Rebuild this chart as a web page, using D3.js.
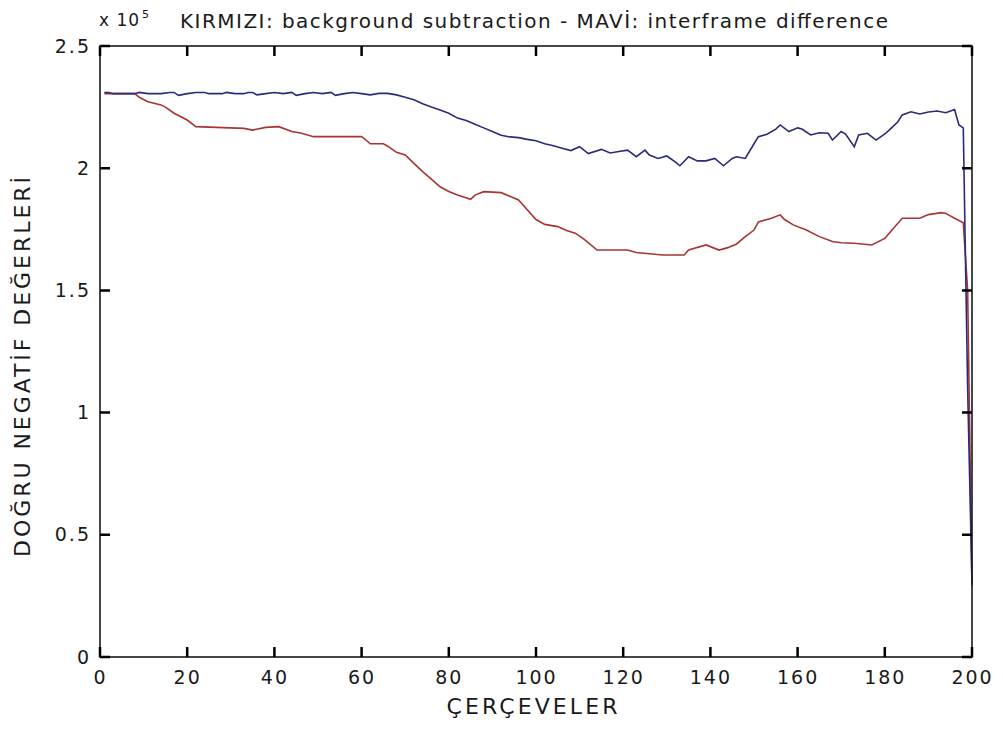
<!DOCTYPE html>
<html>
<head>
<meta charset="utf-8">
<script src="https://cdn.jsdelivr.net/npm/d3@7"></script>
<style>
  body { margin: 0; background: #fff; }
  text { font-family: "DejaVu Sans", "Liberation Sans", Arial, sans-serif; fill: #1a1a1a; }
</style>
</head>
<body>
<svg id="chart" width="1003" height="729"></svg>
<script>
// === DATA (frame, value in units of 1e5) ===
const xTicks = [0, 20, 40, 60, 80, 100, 120, 140, 160, 180, 200];
const yTicks = [0, 0.5, 1, 1.5, 2, 2.5];

// MAVİ: interframe difference
const blueSeries = [
  [1,2.31],[2,2.31],[3,2.305],[5,2.305],[8,2.305],[9,2.31],[11,2.305],[14,2.305],[16,2.31],[17,2.31],
  [18,2.298],[20,2.305],[22,2.31],[24,2.31],[25,2.305],[28,2.305],[29,2.31],[31,2.305],[33,2.305],[34,2.31],
  [35,2.31],[36,2.3],[38,2.305],[40,2.31],[42,2.305],[44,2.31],[45,2.298],[47,2.305],[49,2.31],[51,2.305],
  [53,2.31],[54,2.298],[56,2.305],[58,2.31],[60,2.305],[62,2.3],[64,2.306],[66,2.306],[68,2.3],[70,2.29],
  [72,2.28],[74,2.264],[76,2.25],[78,2.238],[80,2.225],[82,2.205],[84,2.195],[86,2.18],[88,2.165],[90,2.15],
  [92,2.135],[94,2.128],[96,2.125],[98,2.118],[100,2.112],[102,2.1],[104,2.092],[106,2.082],[108,2.072],[110,2.088],
  [112,2.06],[115,2.077],[117,2.062],[119,2.068],[121,2.074],[123,2.047],[125,2.074],[126,2.054],[128,2.04],[130,2.05],
  [132,2.025],[133,2.01],[135,2.047],[137,2.03],[139,2.03],[141,2.04],[143,2.01],[145,2.04],[146,2.047],[148,2.04],
  [150,2.1],[151,2.129],[153,2.139],[155,2.16],[156,2.177],[158,2.15],[160,2.165],[161,2.16],[163,2.136],[165,2.145],
  [167,2.143],[168,2.115],[170,2.15],[171,2.14],[173,2.088],[174,2.136],[176,2.143],[178,2.115],[180,2.14],[181,2.156],
  [183,2.19],[184,2.218],[186,2.231],[188,2.222],[190,2.23],[192,2.234],[194,2.227],[196,2.24],[197,2.177],[198,2.165],
  [199,1.10],[200,0.30]
];

// KIRMIZI: background subtraction
const redSeries = [
  [1,2.305],[8,2.305],[9,2.29],[11,2.272],[14,2.259],[15,2.25],[17,2.225],[20,2.197],[22,2.17],[33,2.163],
  [35,2.156],[38,2.167],[41,2.17],[44,2.15],[46,2.144],[49,2.129],[60,2.13],[62,2.10],[65,2.10],[66,2.09],
  [68,2.065],[70,2.054],[72,2.02],[74,1.986],[76,1.955],[78,1.924],[80,1.905],[82,1.89],[85,1.873],[86,1.89],
  [88,1.904],[92,1.9],[94,1.885],[96,1.87],[98,1.83],[100,1.79],[102,1.77],[105,1.761],[107,1.745],[109,1.734],
  [111,1.71],[114,1.665],[121,1.665],[123,1.655],[126,1.65],[129,1.645],[134,1.645],[135,1.665],[139,1.686],[142,1.665],
  [144,1.675],[146,1.69],[148,1.72],[150,1.747],[151,1.78],[153,1.79],[154,1.795],[156,1.809],[157,1.79],[159,1.768],
  [162,1.747],[165,1.72],[168,1.70],[170,1.695],[173,1.693],[177,1.686],[180,1.713],[182,1.754],[184,1.795],[188,1.795],
  [190,1.81],[193,1.818],[194,1.815],[196,1.795],[198,1.777],[199,1.50],[200,0.29]
];

// === LAYOUT ===
const svg = d3.select("#chart");
const margin = { top: 46, right: 31, bottom: 72, left: 100 };
const width = +svg.attr("width");
const height = +svg.attr("height");
const innerWidth = width - margin.left - margin.right;
const innerHeight = height - margin.top - margin.bottom;

const g = svg.append("g").attr("transform", `translate(${margin.left}, ${margin.top})`);

const x = d3.scaleLinear().domain([0, 200]).range([0, innerWidth]);
const y = d3.scaleLinear().domain([0, 2.5]).range([innerHeight, 0]);

// === LINES ===
const line = d3.line().x(d => x(d[0])).y(d => y(d[1]));

g.append("path")
  .datum(redSeries)
  .attr("d", line)
  .attr("fill", "none")
  .attr("stroke", "#a83434")
  .attr("stroke-width", 1.6);

g.append("path")
  .datum(blueSeries)
  .attr("d", line)
  .attr("fill", "none")
  .attr("stroke", "#2a2a7c")
  .attr("stroke-width", 1.6);

// === AXES: labels via d3 axes ===
const tickLen = 10;

const styleLabels = sel => {
  sel.select(".domain").remove();
  sel.selectAll(".tick line").remove();
  sel.selectAll(".tick text")
    .style("font-size", "19px")
    .style("letter-spacing", "2px");
};

g.append("g")
  .attr("transform", `translate(0, ${innerHeight})`)
  .call(d3.axisBottom(x).tickValues(xTicks).tickSize(0).tickPadding(14).tickFormat(d3.format("d")))
  .call(styleLabels);

g.append("g")
  .call(d3.axisLeft(y).tickValues(yTicks).tickSize(0).tickPadding(9).tickFormat(d => d))
  .call(styleLabels);

// box
g.append("rect")
  .attr("width", innerWidth)
  .attr("height", innerHeight)
  .attr("fill", "none")
  .attr("stroke", "#1a1a1a")
  .attr("stroke-width", 1.6);

// inward tick marks on all four sides, one path
const tickPath = d3.path();
xTicks.forEach(t => {
  tickPath.moveTo(x(t), innerHeight);
  tickPath.lineTo(x(t), innerHeight - tickLen);
  tickPath.moveTo(x(t), 0);
  tickPath.lineTo(x(t), tickLen);
});
yTicks.forEach(t => {
  tickPath.moveTo(0, y(t));
  tickPath.lineTo(tickLen, y(t));
  tickPath.moveTo(innerWidth, y(t));
  tickPath.lineTo(innerWidth - tickLen, y(t));
});

g.append("path")
  .attr("d", tickPath.toString())
  .attr("fill", "none")
  .attr("stroke", "#000")
  .attr("stroke-width", 2.5);

// === TEXTS ===
const exp = svg.append("text")
  .attr("x", 99)
  .attr("y", 26)
  .style("font-size", "17px")
  .style("letter-spacing", "1px");
exp.append("tspan").text("x 10");
exp.append("tspan").attr("dx", 2).attr("dy", -8).style("font-size", "11px").text("5");

svg.append("text")
  .attr("x", 180)
  .attr("y", 28)
  .attr("textLength", 708)
  .attr("lengthAdjust", "spacing")
  .style("font-size", "20px")
  .text("KIRMIZI: background subtraction - MAVİ: interframe difference");

svg.append("text")
  .attr("x", 532)
  .attr("y", 714)
  .attr("text-anchor", "middle")
  .attr("textLength", 171)
  .attr("lengthAdjust", "spacing")
  .style("font-size", "22px")
  .text("ÇERÇEVELER");

svg.append("text")
  .attr("transform", `translate(30, 367) rotate(-90)`)
  .attr("text-anchor", "middle")
  .attr("textLength", 380)
  .attr("lengthAdjust", "spacing")
  .style("font-size", "22px")
  .text("DOĞRU NEGATİF DEĞERLERİ");
</script>
</body>
</html>
